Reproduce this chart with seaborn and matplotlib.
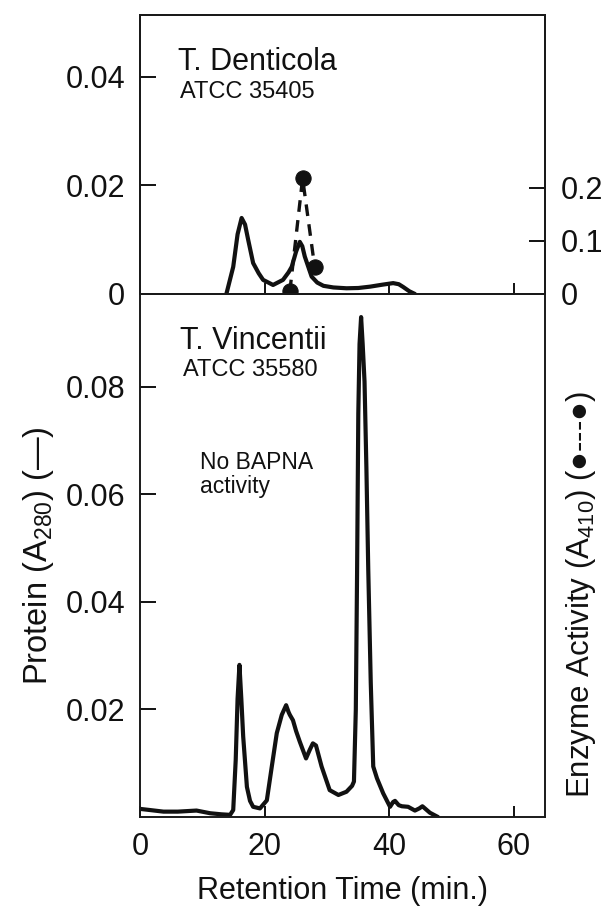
import matplotlib
matplotlib.use("Agg")
import matplotlib.pyplot as plt
import seaborn as sns

# protein trace, T. denticola (top panel)
top_time = [13.8, 14.9, 15.6, 16.25, 16.8, 17.3, 18.1, 19.0, 19.7, 21.3,
            22.9, 23.8, 24.3, 25.0, 25.6, 26.0, 26.4, 27.5, 28.4, 29.4,
            31.0, 33.1, 35.0, 36.9, 38.8, 40.6, 41.5, 42.2, 43.2, 44.1]
top_a280 = [0, 0.0050, 0.0110, 0.0140, 0.0128, 0.0100, 0.0057, 0.0038, 0.0026, 0.00166,
            0.0026, 0.0040, 0.0050, 0.0078, 0.0096, 0.0088, 0.0069, 0.0032, 0.0021, 0.0015,
            0.0012, 0.00105, 0.0011, 0.00135, 0.0017, 0.0020, 0.0018, 0.0013, 0.0005, 0]

# enzyme activity, T. denticola
enz_time = [24.0, 26.05, 28.0]
enz_a410 = [0.005, 0.218, 0.05]

# protein trace, T. vincentii (bottom panel)
bot_time = [0.0, 1.5, 3.7, 6.0, 9.0, 11.2, 13.0, 14.4, 14.9, 15.3,
            15.6, 15.9, 16.2, 16.5, 17.1, 17.6, 18.1, 19.2, 20.3, 21.1,
            21.9, 22.7, 23.4, 23.8, 24.0, 24.5, 25.0, 25.6, 26.6, 27.2,
            27.7, 28.2, 29.1, 30.4, 31.8, 33.1, 34.0, 34.3, 34.6, 34.8,
            35.0, 35.2, 35.45, 35.7, 36.0, 36.3, 36.6, 37.0, 37.4, 38.0,
            39.0, 40.1, 40.6, 40.9, 41.5, 42.0, 43.0, 44.1, 44.8, 45.3,
            46.5, 47.8]
bot_a280 = [0.0015, 0.0013, 0.0010, 0.0010, 0.0012, 0.0007, 0.0005, 0.0004, 0.0013, 0.0106,
            0.0220, 0.0283, 0.0220, 0.0150, 0.0056, 0.0030, 0.0019, 0.0016, 0.0031, 0.0094,
            0.0156, 0.0190, 0.0208, 0.0195, 0.0190, 0.0180, 0.0160, 0.0140, 0.0109, 0.0125,
            0.0137, 0.0133, 0.0094, 0.0050, 0.0041, 0.0047, 0.0058, 0.0066, 0.0200, 0.0450,
            0.0750, 0.0880, 0.0930, 0.0880, 0.0810, 0.0650, 0.0460, 0.0250, 0.0094, 0.0072,
            0.0044, 0.0019, 0.0028, 0.0030, 0.0022, 0.0020, 0.0019, 0.0012, 0.0016, 0.0020,
            0.0008, 0.0]

x_ticks = [0, 20, 40, 60]
top_yticks = [0, 0.02, 0.04]
top_ylabels = ["0", "0.02", "0.04"]
enz_yticks = [0, 0.1, 0.2]
enz_ylabels = ["0", "0.1", "0.2"]
bot_yticks = [0.02, 0.04, 0.06, 0.08]
bot_ylabels = ["0.02", "0.04", "0.06", "0.08"]

INK = "#111111"
sns.set_style("ticks")
plt.rcParams["font.family"] = ["Liberation Sans", "DejaVu Sans"]
plt.rcParams["mathtext.fontset"] = "custom"
plt.rcParams["mathtext.rm"] = "Liberation Sans"
plt.rcParams["mathtext.it"] = "Liberation Sans"
plt.rcParams["axes.edgecolor"] = "#1a1a1a"
plt.rcParams["axes.linewidth"] = 1.4
plt.rcParams["text.color"] = INK
plt.rcParams["axes.labelcolor"] = INK
plt.rcParams["xtick.color"] = INK
plt.rcParams["ytick.color"] = INK

fig = plt.figure(figsize=(6.09, 9.09), dpi=100)
ax_top = fig.add_axes([0.2307, 0.6766, 0.6642, 0.3069])
ax_bot = fig.add_axes([0.2307, 0.1012, 0.6642, 0.5754])

sns.lineplot(x=top_time, y=top_a280, ax=ax_top, color=INK, linewidth=3.0,
             sort=False, estimator=None)
sns.lineplot(x=bot_time, y=bot_a280, ax=ax_bot, color=INK, linewidth=3.0,
             sort=False, estimator=None)

ax_enz = ax_top.twinx()
sns.lineplot(x=enz_time, y=enz_a410, ax=ax_enz, color=INK, linewidth=2.4, sort=False,
             estimator=None, linestyle=(0, (3.5, 2.5)), marker="o", markersize=11,
             markeredgecolor=INK, markerfacecolor=INK)

for ax in (ax_top, ax_bot):
    ax.set_xlim(0, 65)
    ax.set_xticks(x_ticks[1:] if ax is ax_top else x_ticks)
    ax.tick_params(axis="both", direction="in", labelsize=22, pad=11, width=1.4)
    ax.tick_params(axis="y", length=11.5)
    ax.tick_params(axis="x", length=8)
    for s in ax.spines.values():
        s.set_visible(True)

ax_top.set_ylim(0, 0.0514)
ax_top.set_yticks(top_yticks)
ax_top.set_yticklabels(top_ylabels)
ax_top.tick_params(axis="x", labelbottom=False)

ax_enz.set_ylim(0, 0.526)
ax_enz.set_yticks(enz_yticks)
ax_enz.set_yticklabels(enz_ylabels)
ax_enz.tick_params(axis="y", direction="in", length=11.5, labelsize=22, pad=11, width=1.4)

ax_bot.set_ylim(0, 0.0973)
ax_bot.set_yticks(bot_yticks)
ax_bot.set_yticklabels(bot_ylabels)
ax_bot.set_xticklabels([str(t) for t in x_ticks])

ax_bot.set_xlabel("Retention Time (min.)", fontsize=22, labelpad=10)
ax_bot.set_ylabel("Protein (A$_{280}$) (—)", fontsize=23.5, labelpad=7)
fig.text(581 / 609, 1 - 594 / 909, "Enzyme Activity (A$_{410}$) (●---●)",
         rotation=90, fontsize=22.5, ha="center", va="center")

ax_top.text(0.093, 0.803, "T. Denticola", transform=ax_top.transAxes, fontsize=22)
ax_top.text(0.098, 0.701, "ATCC 35405", transform=ax_top.transAxes, fontsize=17)
ax_bot.text(0.098, 0.894, "T. Vincentii", transform=ax_bot.transAxes, fontsize=22)
ax_bot.text(0.105, 0.843, "ATCC 35580", transform=ax_bot.transAxes, fontsize=17)
ax_bot.text(0.147, 0.665, "No BAPNA", transform=ax_bot.transAxes, fontsize=16.5)
ax_bot.text(0.147, 0.619, "activity", transform=ax_bot.transAxes, fontsize=16.5)

fig.savefig("out.png", dpi=100, facecolor="white")
